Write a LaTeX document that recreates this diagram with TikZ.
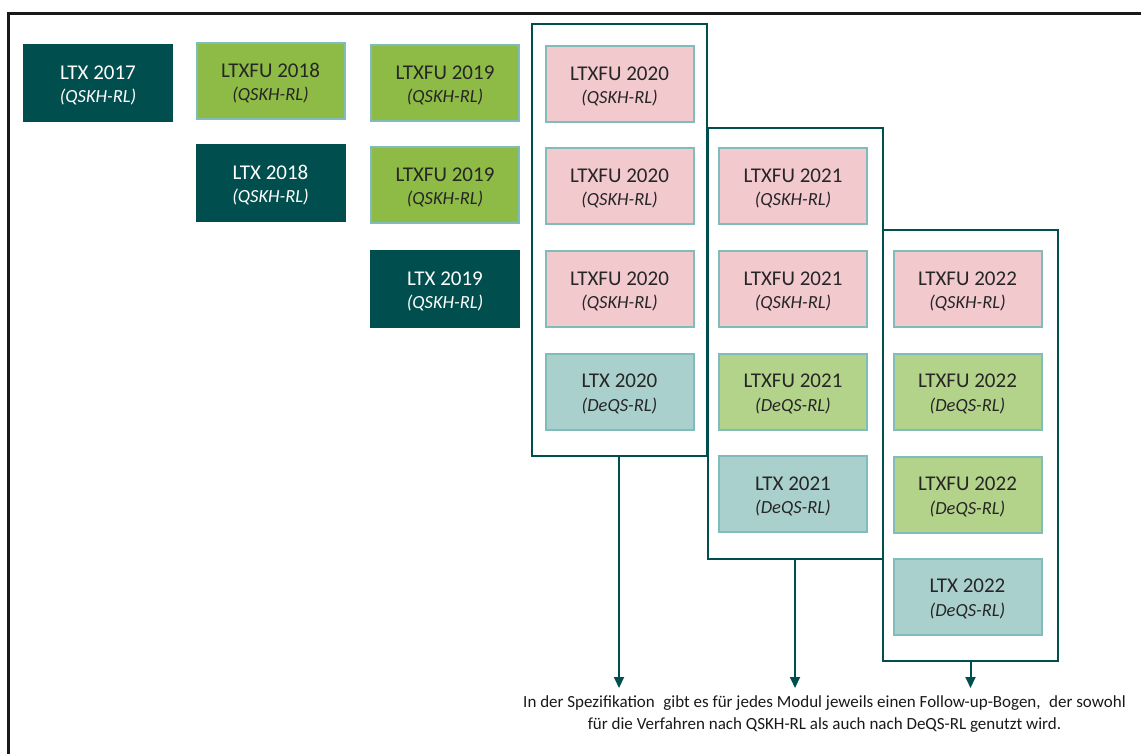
\documentclass[tikz,border=0pt]{standalone}
\usepackage{fontspec}
\setmainfont{Carlito}
\usetikzlibrary{arrows.meta}

\definecolor{dkteal}{HTML}{004F4E}
\definecolor{boxline}{HTML}{80BCB9}
\definecolor{fugreen}{HTML}{8DBB45}
\definecolor{fupink}{HTML}{F2CACE}
\definecolor{fulight}{HTML}{B3D38A}
\definecolor{ltteal}{HTML}{AAD0CD}

\newcommand{\modtext}[2]{\rule{0pt}{19pt}#1\\{\fontsize{18.5}{23.5}\selectfont\itshape (#2)}}

\begin{document}
\begin{tikzpicture}[
  x=1pt, y=-1pt,
  mod/.style={rectangle, draw=boxline, line width=2pt, minimum width=148pt, minimum height=76pt,
    inner sep=0pt, align=center, text=black!85, font=\fontsize{21}{23.5}\selectfont},
  ltx/.style={mod, fill=dkteal, draw=dkteal, text=white},
  fu/.style={mod, fill=fugreen},
  fuq/.style={mod, fill=fupink},
  fud/.style={mod, fill=fulight},
  ltxd/.style={mod, fill=ltteal},
  group/.style={rectangle, draw=dkteal, line width=2pt, minimum width=175pt, minimum height=431pt, inner sep=0pt},
  flow/.style={-{Triangle[length=11pt,width=10pt]}, dkteal, line width=2pt},
  note/.style={align=center, text=black!90, font=\fontsize{17}{22}\selectfont}
]
\useasboundingbox (0,0) rectangle (1141,754);

% Frame
\draw[black!90, line width=3pt] (8,754) -- (8,14) -- (1141,14);

% Groups
\node[group, minimum height=432pt] (G20) at (619,240) {};
\node[group] (G21) at (795,343.5) {};
\node[group] (G22) at (970.5,445.5) {};

% 2017
\node[ltx] (L17) at (98,83) {\modtext{LTX 2017}{QSKH-RL}};

% 2018
\node[fu] (F18) at (270.5,81) {\modtext{LTXFU 2018}{QSKH-RL}};
\node[ltx] (L18) at (270.5,183) {\modtext{LTX 2018}{QSKH-RL}};

% 2019
\node[fu] (F19a) at (445,83) {\modtext{LTXFU 2019}{QSKH-RL}};
\node[fu] (F19b) at (445,185) {\modtext{LTXFU 2019}{QSKH-RL}};
\node[ltx] (L19) at (445,289) {\modtext{LTX 2019}{QSKH-RL}};

% 2020
\node[fuq] (F20a) at (619.5,84) {\modtext{LTXFU 2020}{QSKH-RL}};
\node[fuq] (F20b) at (619.5,186) {\modtext{LTXFU 2020}{QSKH-RL}};
\node[fuq] (F20c) at (619.5,289) {\modtext{LTXFU 2020}{QSKH-RL}};
\node[ltxd] (L20) at (619.5,391.5) {\modtext{LTX 2020}{DeQS-RL}};

% 2021
\node[fuq] (F21a) at (793,186) {\modtext{LTXFU 2021}{QSKH-RL}};
\node[fuq] (F21b) at (793,289) {\modtext{LTXFU 2021}{QSKH-RL}};
\node[fud] (F21c) at (793,391.5) {\modtext{LTXFU 2021}{DeQS-RL}};
\node[ltxd] (L21) at (793,494) {\modtext{LTX 2021}{DeQS-RL}};

% 2022
\node[fuq] (F22a) at (967.5,289) {\modtext{LTXFU 2022}{QSKH-RL}};
\node[fud] (F22b) at (967.5,391.5) {\modtext{LTXFU 2022}{DeQS-RL}};
\node[fud] (F22c) at (967.5,494.5) {\modtext{LTXFU 2022}{DeQS-RL}};
\node[ltxd] (L22) at (967.5,596.5) {\modtext{LTX 2022}{DeQS-RL}};

% Note
\node[note] (spec) at (824.5,714) {In der Spezifikation\enspace gibt es für jedes Modul jeweils einen Follow-up-Bogen,\enspace der sowohl\\
  für die Verfahren nach QSKH-RL als auch nach DeQS-RL genutzt wird.};

% Arrows
\coordinate (E20) at (619,688);
\coordinate (E21) at (795,688);
\coordinate (E22) at (970.5,688);
\draw[flow] (G20.south) -- (E20);
\draw[flow] (G21.south) -- (E21);
\draw[flow] (G22.south) -- (E22);

\end{tikzpicture}
\end{document}
